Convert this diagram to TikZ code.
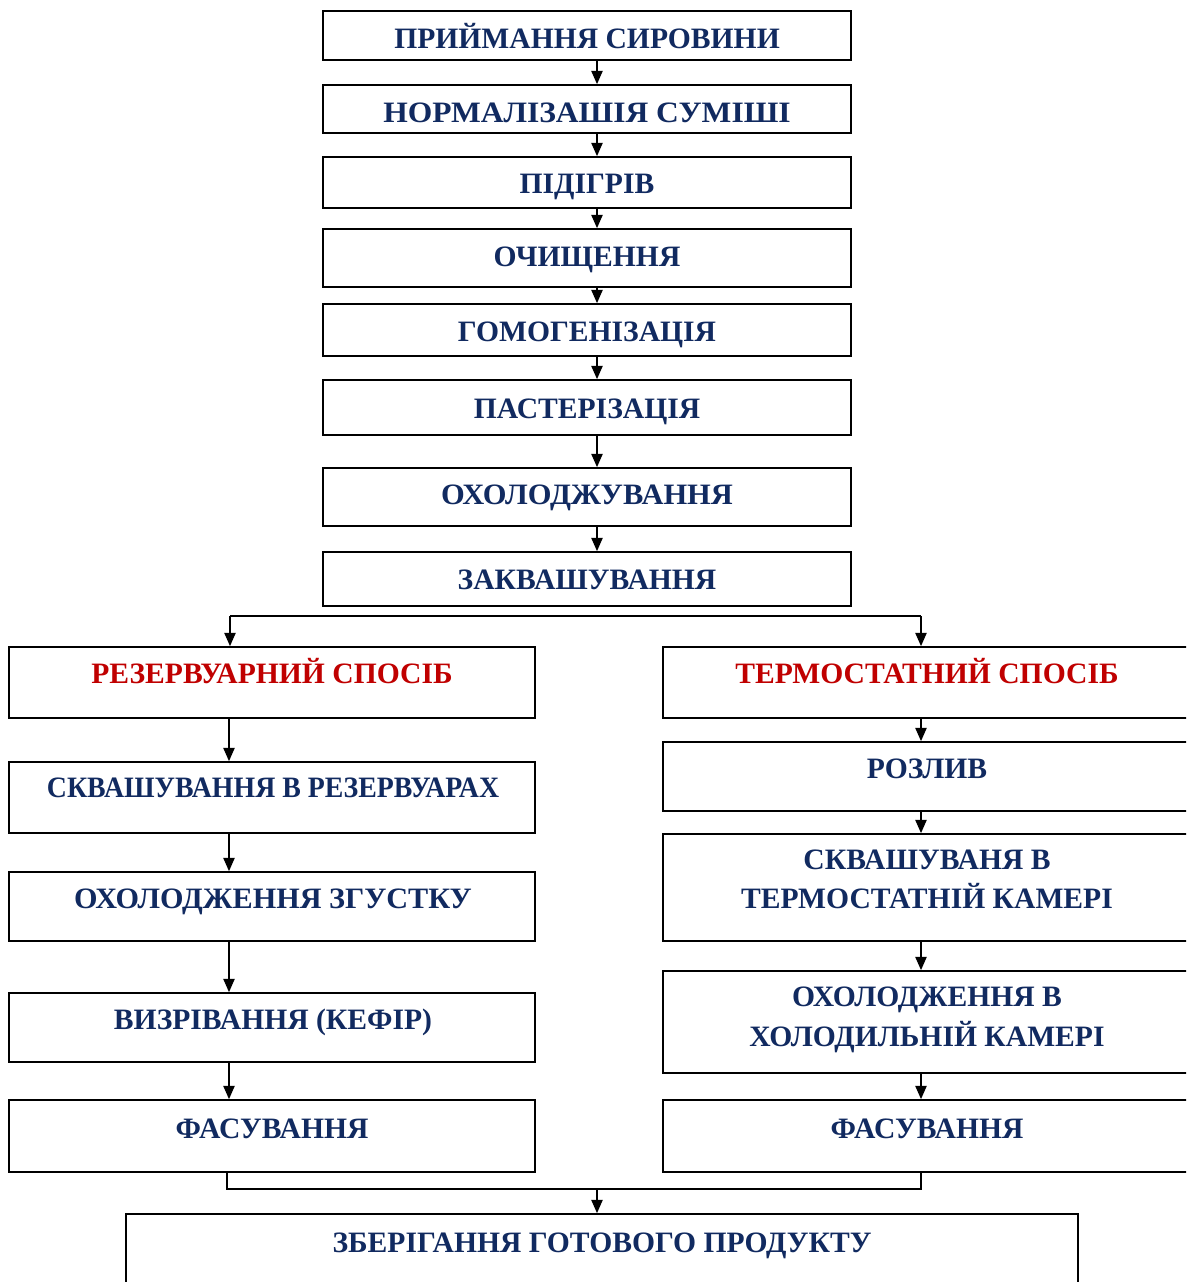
\documentclass[tikz,border=0pt]{standalone}
\usepackage{fontspec}
\setmainfont{Liberation Serif}
\usetikzlibrary{arrows.meta}
\definecolor{navy}{HTML}{112A60}
\definecolor{darkred}{HTML}{C00000}
\tikzset{
  box/.style={draw=black, line width=1.3pt, fill=white, inner sep=0pt},
  txt/.style={anchor=base, inner sep=0pt, font=\fontsize{22.2}{26}\selectfont\bfseries, text=navy},
  rtxt/.style={txt, text=darkred},
  arr/.style={draw=black, line width=1.1pt, -{Triangle[width=8.5pt,length=10pt]}},
  ln/.style={draw=black, line width=1.1pt},
}
\begin{document}
\begin{tikzpicture}[x=0.75pt, y=-0.75pt]
\useasboundingbox (0,0) rectangle (1186,1282);
\clip (0,0) rectangle (1186,1282);
% top column
\node[box, minimum width=528*0.75pt, minimum height=49*0.75pt] (b1) at (587,35.5) {};
\node[box, minimum width=528*0.75pt, minimum height=48*0.75pt] (b2) at (587,109) {};
\node[box, minimum width=528*0.75pt, minimum height=51*0.75pt] (b3) at (587,182.5) {};
\node[box, minimum width=528*0.75pt, minimum height=58*0.75pt] (b4) at (587,258) {};
\node[box, minimum width=528*0.75pt, minimum height=52*0.75pt] (b5) at (587,330) {};
\node[box, minimum width=528*0.75pt, minimum height=55*0.75pt] (b6) at (587,407.5) {};
\node[box, minimum width=528*0.75pt, minimum height=58*0.75pt] (b7) at (587,497) {};
\node[box, minimum width=528*0.75pt, minimum height=54*0.75pt] (b8) at (587,579) {};
\node[txt] (t1) at (587,48) {ПРИЙМАННЯ СИРОВИНИ};
\node[txt] (t2) at (587,122) {\scalebox{1.065}[1]{НОРМАЛІЗАШІЯ СУМІШІ}};
\node[txt] (t3) at (587,193) {ПІДІГРІВ};
\node[txt] (t4) at (587,266) {ОЧИЩЕННЯ};
\node[txt] (t5) at (587,341) {ГОМОГЕНІЗАЦІЯ};
\node[txt] (t6) at (587,418) {ПАСТЕРІЗАЦІЯ};
\node[txt] (t7) at (587,504) {\scalebox{1.03}[1]{ОХОЛОДЖУВАННЯ}};
\node[txt] (t8) at (587,589) {ЗАКВАШУВАННЯ};
\coordinate (cx) at (597,0);
\foreach \a/\b in {b1/b2,b2/b3,b3/b4,b4/b5,b5/b6,b6/b7,b7/b8}
  \draw[arr] (\a.south -| cx) -- (\b.north -| cx);
% left column
\node[box, minimum width=526*0.75pt, minimum height=71*0.75pt] (L1) at (272,682.5) {};
\node[box, minimum width=526*0.75pt, minimum height=71*0.75pt] (L2) at (272,797.5) {};
\node[box, minimum width=526*0.75pt, minimum height=69*0.75pt] (L3) at (272,906.5) {};
\node[box, minimum width=526*0.75pt, minimum height=69*0.75pt] (L4) at (272,1027.5) {};
\node[box, minimum width=526*0.75pt, minimum height=72*0.75pt] (L5) at (272,1136) {};
\node[rtxt] (lt1) at (272,683) {РЕЗЕРВУАРНИЙ СПОСІБ};
\node[txt] (lt2) at (273,797) {\scalebox{0.94}[1]{СКВАШУВАННЯ В РЕЗЕРВУАРАХ}};
\node[txt] (lt3) at (273,908) {\scalebox{1.02}[1]{ОХОЛОДЖЕННЯ ЗГУСТКУ}};
\node[txt] (lt4) at (273,1029) {ВИЗРІВАННЯ (КЕФІР)};
\node[txt] (lt5) at (272,1138) {ФАСУВАННЯ};
\coordinate (lx) at (229,0);
\foreach \a/\b in {L1/L2,L2/L3,L3/L4,L4/L5}
  \draw[arr] (\a.south -| lx) -- (\b.north -| lx);
% right column
\node[box, minimum width=528*0.75pt, minimum height=71*0.75pt] (R1) at (927,682.5) {};
\node[box, minimum width=528*0.75pt, minimum height=69*0.75pt] (R2) at (927,776.5) {};
\node[box, minimum width=528*0.75pt, minimum height=107*0.75pt] (R3) at (927,887.5) {};
\node[box, minimum width=528*0.75pt, minimum height=102*0.75pt] (R4) at (927,1022) {};
\node[box, minimum width=528*0.75pt, minimum height=72*0.75pt] (R5) at (927,1136) {};
\node[rtxt] (rt1) at (927,683) {ТЕРМОСТАТНИЙ СПОСІБ};
\node[txt] (rt2) at (927,778) {РОЗЛИВ};
\node[txt] (rt3a) at (927,869) {СКВАШУВАНЯ В};
\node[txt] (rt3b) at (927,908) {ТЕРМОСТАТНІЙ КАМЕРІ};
\node[txt] (rt4a) at (927,1006) {ОХОЛОДЖЕННЯ В};
\node[txt] (rt4b) at (927,1046) {ХОЛОДИЛЬНІЙ КАМЕРІ};
\node[txt] (rt5) at (927,1138) {ФАСУВАННЯ};
\coordinate (rx) at (921,0);
\foreach \a/\b in {R1/R2,R2/R3,R3/R4,R4/R5}
  \draw[arr] (\a.south -| rx) -- (\b.north -| rx);
% split
\coordinate (sl) at (230,616);
\coordinate (sr) at (921,616);
\draw[ln] (sl) -- (sr);
\draw[arr] (sl) -- (L1.north -| sl);
\draw[arr] (sr) -- (R1.north -| sr);
% bottom
\node[box, minimum width=952*0.75pt, minimum height=100*0.75pt] (B) at (602,1264) {};
\node[txt] (bt) at (602,1252) {ЗБЕРІГАННЯ ГОТОВОГО ПРОДУКТУ};
\coordinate (mid) at (597,1189);
\coordinate (l5x) at (227,0);
\draw[ln] (L5.south -| l5x) |- (mid) -| (R5.south -| rx);
\draw[arr] (mid) -- (B.north -| mid);
\end{tikzpicture}
\end{document}
